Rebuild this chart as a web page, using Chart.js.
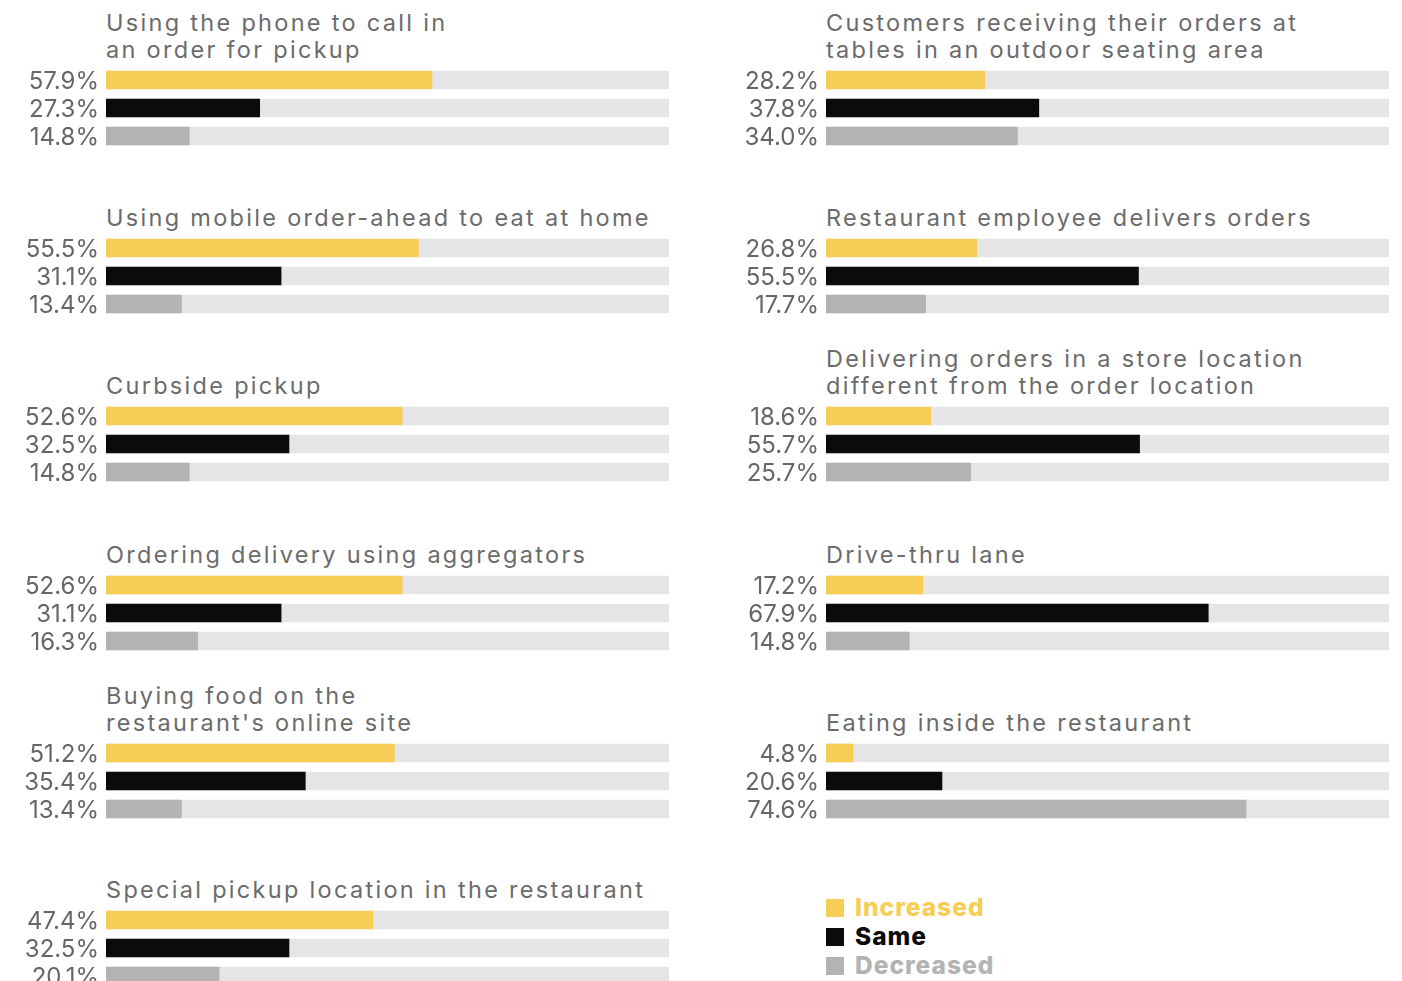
<!DOCTYPE html>
<html>
<head>
<meta charset="utf-8">
<script src="https://cdn.jsdelivr.net/npm/chart.js@4"></script>
<style>
  body { margin: 0; background: #fff; width: 1402px; height: 981px; overflow: hidden; position: relative; }
  .title { position: absolute; font-family: Inter, sans-serif; font-size: 23.5px; line-height: 27px; letter-spacing: 2.3px; color: #6b6b6b; white-space: nowrap; }
  .panel { position: absolute; width: 669px; height: 84px; }
  .legend { position: absolute; left: 826px; top: 893px; font-family: Inter, sans-serif; font-weight: 800; font-size: 24.5px; line-height: 29px; letter-spacing: 1px; }
  .legend div { display: flex; align-items: center; }
  .legend span.sw { width: 18px; height: 18px; margin-right: 11px; display: inline-block; }
</style>
</head>
<body>
<div id="root"></div>
<div class="legend" id="legend"></div>
<script>
// Survey categories (titles), two columns
const titlesLeft = [
  ['Using the phone to call in', 'an order for pickup'],
  ['Using mobile order-ahead to eat at home'],
  ['Curbside pickup'],
  ['Ordering delivery using aggregators'],
  ['Buying food on the', "restaurant's online site"],
  ['Special pickup location in the restaurant']
];
const titlesRight = [
  ['Customers receiving their orders at', 'tables in an outdoor seating area'],
  ['Restaurant employee delivers orders'],
  ['Delivering orders in a store location', 'different from the order location'],
  ['Drive-thru lane'],
  ['Eating inside the restaurant']
];

// Percent of respondents: increased / same / decreased
const increasedLeft = [57.9, 55.5, 52.6, 52.6, 51.2, 47.4];
const sameLeft      = [27.3, 31.1, 32.5, 31.1, 35.4, 32.5];
const decreasedLeft = [14.8, 13.4, 14.8, 16.3, 13.4, 20.1];

const increasedRight = [28.2, 26.8, 18.6, 17.2, 4.8];
const sameRight      = [37.8, 55.5, 55.7, 67.9, 20.6];
const decreasedRight = [34.0, 17.7, 25.7, 14.8, 74.6];

const seriesNames = ['Increased', 'Same', 'Decreased'];
const seriesColors = ['#f7ce55', '#0b0b0b', '#b3b3b4'];
const trackColor = '#e5e5e7';

const panelTops = [66, 234, 402, 571, 739, 906];

function makePanel(x, top, title, values) {
  const root = document.getElementById('root');

  const t = document.createElement('div');
  t.className = 'title';
  t.style.left = (x + 106) + 'px';
  t.style.bottom = (981 - top + 3) + 'px';
  t.innerHTML = title.join('<br>');
  root.appendChild(t);

  const box = document.createElement('div');
  box.className = 'panel';
  box.style.left = x + 'px';
  box.style.top = top + 'px';
  const canvas = document.createElement('canvas');
  canvas.width = 669;
  canvas.height = 84;
  box.appendChild(canvas);
  root.appendChild(box);

  const labels = values.map(v => v.toFixed(1) + '%');

  new Chart(canvas, {
    type: 'bar',
    data: {
      labels: labels,
      datasets: [{
        data: values,
        backgroundColor: seriesColors,
        barThickness: 18,
        grouped: false,
        order: 0
      }, {
        data: values.map(() => 100),
        backgroundColor: trackColor,
        barThickness: 18,
        grouped: false,
        order: 1
      }]
    },
    options: {
      indexAxis: 'y',
      responsive: false,
      animation: false,
      layout: { padding: 0 },
      scales: {
        x: {
          display: false,
          min: 0,
          max: 100
        },
        y: {
          grid: { display: false, drawTicks: false },
          border: { display: false },
          ticks: {
            autoSkip: false,
            padding: 7,
            labelOffset: 1.5,
            color: '#666666',
            font: { family: 'Inter, sans-serif', size: 24 }
          },
          afterFit: function(scale) {
            scale.width = 106;
            scale.paddingTop = 0;
            scale.paddingBottom = 0;
          }
        }
      },
      plugins: {
        legend: { display: false },
        tooltip: { enabled: false }
      }
    }
  });
}

titlesLeft.forEach((title, i) => {
  makePanel(0, panelTops[i], title, [increasedLeft[i], sameLeft[i], decreasedLeft[i]]);
});
titlesRight.forEach((title, i) => {
  makePanel(720, panelTops[i], title, [increasedRight[i], sameRight[i], decreasedRight[i]]);
});

// Legend
const legend = document.getElementById('legend');
seriesNames.forEach((name, i) => {
  const row = document.createElement('div');
  row.innerHTML = '<span class="sw" style="background:' + seriesColors[i] + '"></span>' +
    '<span style="color:' + seriesColors[i] + '">' + name + '</span>';
  legend.appendChild(row);
});
</script>
</body>
</html>
